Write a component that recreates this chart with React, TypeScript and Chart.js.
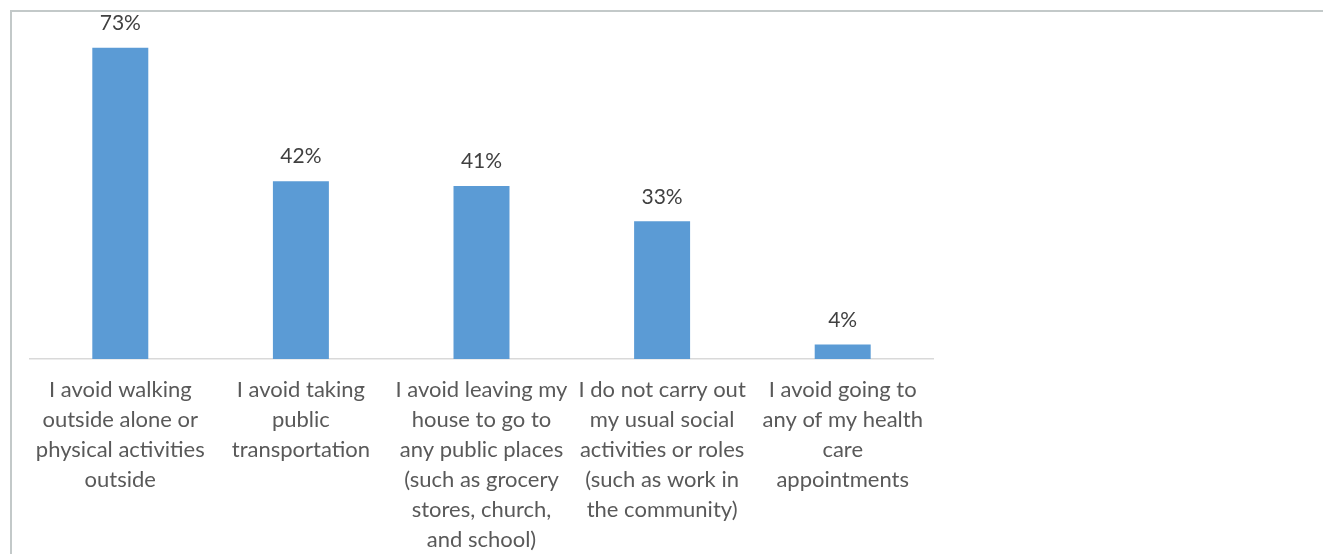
import React, { useEffect, useRef } from "react";
import { Chart, registerables } from "chart.js";

Chart.register(...registerables);

const categories: string[][] = [
  ["I avoid walking", "outside alone or", "physical activities", "outside"],
  ["I avoid taking", "public", "transportation"],
  ["I avoid leaving my", "house to go to", "any public places", "(such as grocery", "stores, church,", "and school)"],
  ["I do not carry out", "my usual social", "activities or roles", "(such as work in", "the community)"],
  ["I avoid going to", "any of my health", "care", "appointments"],
];
const values: number[] = [73, 41.7, 40.6, 32.3, 3.4];
const valueLabels: string[] = ["73%", "42%", "41%", "33%", "4%"];

const FONT = "Lato, 'Open Sans', sans-serif";

const labelPlugin = {
  id: "valueLabels",
  afterDatasetsDraw(chart: any) {
    const { ctx } = chart;
    const meta = chart.getDatasetMeta(0);
    ctx.save();
    ctx.font = `21px ${FONT}`;
    ctx.fillStyle = "#404040";
    ctx.textAlign = "center";
    ctx.textBaseline = "bottom";
    meta.data.forEach((bar: any, i: number) => {
      ctx.fillText(valueLabels[i], bar.x, bar.y - 14);
    });
    ctx.restore();
  },
};

export default function App() {
  const ref = useRef<HTMLCanvasElement | null>(null);
  useEffect(() => {
    document.body.style.margin = "0";
    if (!ref.current) return;
    const chart = new Chart(ref.current, {
      type: "bar",
      data: {
        labels: categories,
        datasets: [
          {
            data: values,
            backgroundColor: "#5B9BD5",
            barPercentage: 0.62,
            categoryPercentage: 0.5,
          },
        ],
      },
      options: {
        animation: false,
        responsive: false,
        maintainAspectRatio: false,
        layout: { padding: { left: 30, right: 390, top: 18, bottom: 0 } },
        plugins: { legend: { display: false }, tooltip: { enabled: false } },
        scales: {
          y: { display: false, min: 0, max: 80 },
          x: {
            grid: { display: false },
            border: { display: true, color: "#d9d9d9", width: 1.5 },
            ticks: {
              autoSkip: false,
              maxRotation: 0,
              minRotation: 0,
              color: "#595959",
              padding: 8,
              font: { family: FONT, size: 22, lineHeight: 1.364 },
            },
          },
        },
      },
      plugins: [labelPlugin],
    });
    return () => chart.destroy();
  }, []);
  return (
    <div style={{ position: "relative", width: 1323, height: 554, background: "#fff", overflow: "hidden" }}>
      <div
        style={{
          position: "absolute",
          left: 10,
          top: 10,
          width: 1400,
          height: 600,
          borderLeft: "2px solid #c3c9c9",
          borderTop: "2px solid #c3c9c9",
        }}
      />
      <canvas ref={ref} width={1323} height={563} style={{ position: "absolute", left: 0, top: 0 }} />
    </div>
  );
}
